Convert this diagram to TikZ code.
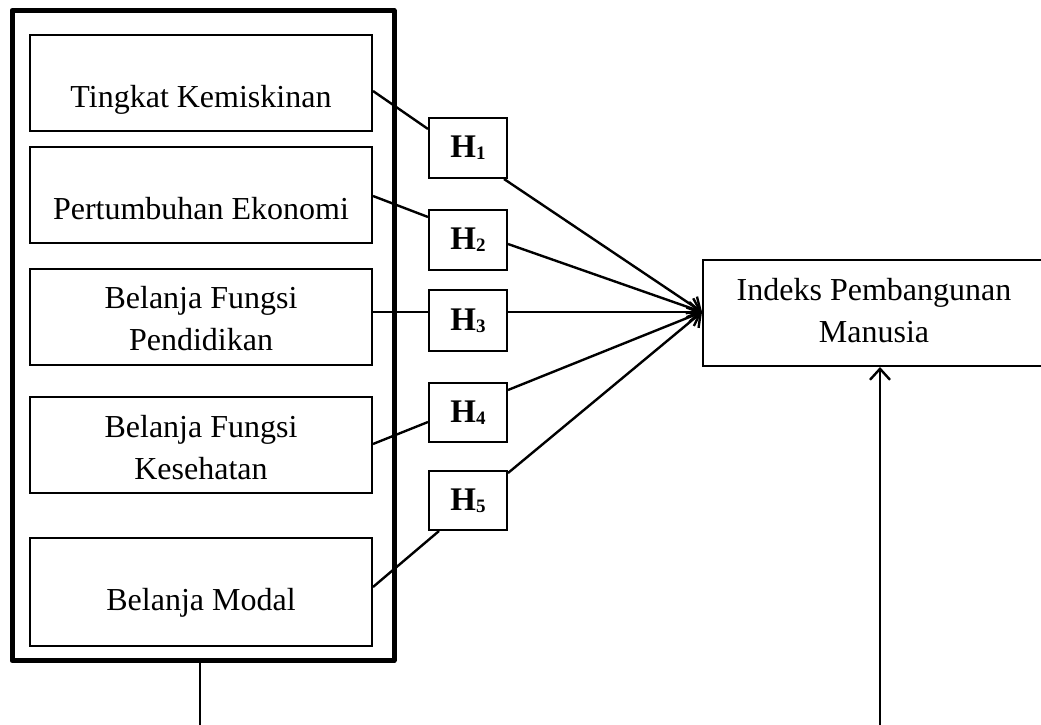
\documentclass[tikz,border=0pt]{standalone}
\usepackage{fontspec}
\setmainfont{Liberation Serif}
\usetikzlibrary{arrows.meta,calc}
\begin{document}
\begin{tikzpicture}[x=1pt,y=-1pt,
  box/.style={draw,line width=2pt,minimum width=342pt,inner sep=0pt},
  hbox/.style={draw,line width=2pt,minimum width=78pt,minimum height=60pt,inner sep=0pt,font=\fontsize{33}{36}\selectfont\bfseries},
  lbl/.style={font=\fontsize{32}{42}\selectfont,align=center,inner sep=0pt},
  con/.style={line width=2.4pt},
  arr/.style={line width=2.4pt,-{Straight Barb[length=11pt,width=20pt]}}
]
\useasboundingbox (0,0) rectangle (1041,725);
\newcommand{\hsub}[1]{H\raisebox{-2pt}{\fontsize{19}{20}\selectfont #1}}

% outer frame
\node[draw,line width=5pt,line join=round,minimum width=382pt,minimum height=650pt,inner sep=0pt] (outer) at (203,335.5) {};

% left boxes
\node[box,minimum height=96pt] (b1) at (201,83) {};
\node[box,minimum height=96pt] (b2) at (201,195) {};
\node[box,minimum height=96pt] (b3) at (201,317) {};
\node[box,minimum height=96pt] (b4) at (201,445) {};
\node[box,minimum height=108pt] (b5) at (201,592) {};

\node[lbl,anchor=base] (t1) at (201,107) {Tingkat Kemiskinan};
\node[lbl,anchor=base] (t2) at (201,219) {Pertumbuhan Ekonomi};
\node[lbl] (t3) at (201,318.5) {Belanja Fungsi\\Pendidikan};
\node[lbl] (t4) at (201,448) {Belanja Fungsi\\Kesehatan};
\node[lbl,anchor=base] (t5) at (201,610) {Belanja Modal};

% hypothesis boxes
\node[hbox] (h1) at (468,148) {\hsub{1}};
\node[hbox] (h2) at (468,240) {\hsub{2}};
\node[hbox,minimum height=61pt] (h3) at (468,320.5) {\hsub{3}};
\node[hbox,minimum height=59pt] (h4) at (468,412.5) {\hsub{4}};
\node[hbox,minimum height=59pt] (h5) at (468,500.5) {\hsub{5}};

% dependent variable
\node[draw,line width=2pt,minimum width=342pt,minimum height=106pt,inner sep=0pt] (ipm) at (874,313) {};
\node[lbl] (tipm) at (874,310.5) {Indeks Pembangunan\\Manusia};

\coordinate (tip) at ([yshift=1pt]ipm.west);

% connectors variable -> hypothesis
\draw[con] ([yshift=-8pt]b1.east) -- ([yshift=19pt]h1.west);
\draw[con] ([yshift=-1pt]b2.east) -- ([yshift=23pt]h2.west);
\draw[con] ([yshift=5pt]b3.east) -- ([yshift=8.5pt]h3.west);
\draw[con] ([yshift=1pt]b4.east) -- ([yshift=-9.5pt]h4.west);
\draw[con] ([yshift=5pt]b5.east) -- ([xshift=-29pt]h5.south);

% hypothesis -> IPM
\draw[arr] ([xshift=-4pt]h1.south east) -- (tip);
\draw[arr] ([yshift=-4pt]h2.east) -- (tip);
\draw[arr] ([yshift=8.5pt]h3.east) -- (tip);
\draw[arr] ([yshift=22.5pt]h4.east) -- (tip);
\draw[arr] ([yshift=27.5pt]h5.east) -- (tip);

% bottom lines
\coordinate (lb) at (200,725);
\coordinate (rb) at (880,725);
\draw[con] (outer.south -| lb) -- (lb);
\draw[arr] (rb) -- (rb |- ipm.south);
\end{tikzpicture}
\end{document}
